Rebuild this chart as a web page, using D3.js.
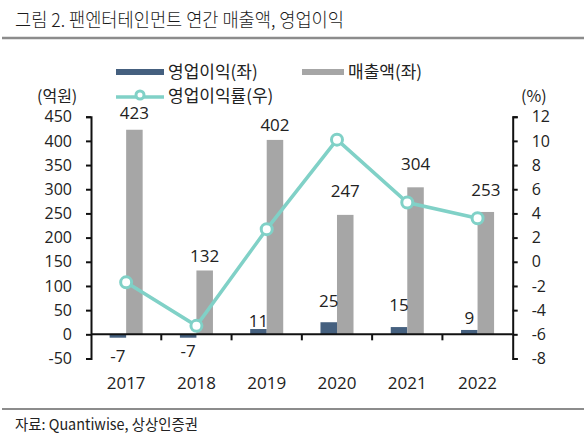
<!DOCTYPE html>
<html><head><meta charset="utf-8">
<script src="https://cdn.jsdelivr.net/npm/d3@7"></script>
<style>
body{margin:0;background:#fff;}
text{font-family:"Open Sans","Noto Sans CJK KR",sans-serif;fill:#222;}
.kr{font-family:"Noto Sans CJK KR",sans-serif;}
</style></head>
<body><svg id="c" width="586" height="438"></svg>
<script>
const years = ["2017","2018","2019","2020","2021","2022"];
const opProfit = [-7,-7,11,25,15,9];
const sales = [423,132,402,247,304,253];
const opMargin = [-1.7,-5.3,2.7,10.1,4.9,3.6];
const leftTicks = [-50,0,50,100,150,200,250,300,350,400,450];
const rightTicks = [-8,-6,-4,-2,0,2,4,6,8,10,12];
// label vertical offsets (px above bar end)
const salesLabelGap = [17,14,15,24,23,22];
const opLabelGap = [-22,-17,8,21,22,12];

const svg = d3.select("#c");
const L = 91, R = 512.7, T = 116.7, B = 358.5;

const x = d3.scaleBand().domain(years).range([L,R]).padding(0);
const yL = d3.scaleLinear().domain([-50,450]).range([B,T]);
const yR = d3.scaleLinear().domain([-8,12]).range([B,T]);
const bw = x.bandwidth()*0.235;
const fmt = d => String(d);

// title
svg.append("text").attr("class","kr").attr("x",15).attr("y",27)
  .attr("font-size",19).attr("font-weight",300).attr("textLength",329).attr("lengthAdjust","spacingAndGlyphs")
  .style("fill","#1a1a1a").text("그림 2. 팬엔터테인먼트 연간 매출액, 영업이익");
svg.append("line").attr("x1",2).attr("x2",584).attr("y1",38).attr("y2",38)
  .attr("stroke","#8c8c8c").attr("stroke-width",2.5);

// footer
svg.append("line").attr("x1",2).attr("x2",584).attr("y1",409).attr("y2",409)
  .attr("stroke","#8c8c8c").attr("stroke-width",2);
svg.append("text").attr("class","kr").attr("x",15).attr("y",430)
  .attr("font-size",15).attr("textLength",183).attr("lengthAdjust","spacingAndGlyphs")
  .text("자료: Quantiwise, 상상인증권");

// legend
svg.append("rect").attr("x",116).attr("y",69).attr("width",48).attr("height",6).attr("fill","#45607f");
svg.append("text").attr("class","kr").attr("x",168).attr("y",78).attr("font-size",17).text("영업이익(좌)");
svg.append("rect").attr("x",302).attr("y",69).attr("width",42).attr("height",6).attr("fill","#a6a6a6");
svg.append("text").attr("class","kr").attr("x",348).attr("y",78).attr("font-size",17).text("매출액(좌)");
svg.append("line").attr("x1",116).attr("x2",164).attr("y1",97).attr("y2",97).attr("stroke","#80d1c7").attr("stroke-width",3.5);
svg.append("circle").attr("cx",140).attr("cy",95).attr("r",4).attr("fill","#fff").attr("stroke","#80d1c7").attr("stroke-width",3);
svg.append("text").attr("class","kr").attr("x",168).attr("y",101.5).attr("font-size",17).text("영업이익률(우)");

// unit labels
svg.append("text").attr("class","kr").attr("x",37).attr("y",101.5).attr("font-size",16).text("(억원)");
svg.append("text").attr("class","kr").attr("x",521).attr("y",101.5).attr("font-size",16).text("(%)");

// axes
const axL = d3.axisLeft(yL).tickValues(leftTicks).tickFormat(fmt).tickSize(5).tickPadding(14);
const gL = svg.append("g").attr("transform",`translate(${L},0)`).call(axL);
const axR = d3.axisRight(yR).tickValues(rightTicks).tickFormat(fmt).tickSize(5).tickPadding(14);
const gR = svg.append("g").attr("transform",`translate(${R},0)`).call(axR);
[gL,gR].forEach(g=>{
  g.select(".domain").attr("stroke","#111").attr("stroke-width",2);
  g.selectAll(".tick line").attr("stroke","#111").attr("stroke-width",2);
  g.selectAll(".tick text").attr("font-size",16).style("font-family","'Open Sans',sans-serif").attr("fill","#222");
});

// bars
svg.append("g").selectAll("rect").data(years).join("rect")
  .attr("x",d=>x(d)+x.bandwidth()/2-bw)
  .attr("width",bw)
  .attr("y",(d,i)=>Math.min(yL(opProfit[i]),yL(0)))
  .attr("height",(d,i)=>Math.abs(yL(opProfit[i])-yL(0)))
  .attr("fill","#45607f");
svg.append("g").selectAll("rect").data(years).join("rect")
  .attr("x",d=>x(d)+x.bandwidth()/2)
  .attr("width",bw)
  .attr("y",(d,i)=>yL(sales[i]))
  .attr("height",(d,i)=>yL(0)-yL(sales[i]))
  .attr("fill","#a6a6a6");

// x axis line + ticks
svg.append("line").attr("x1",L).attr("x2",R).attr("y1",yL(0)).attr("y2",yL(0)).attr("stroke","#111").attr("stroke-width",2);
svg.append("g").selectAll("line").data(years.slice(1)).join("line")
  .attr("x1",d=>x(d)).attr("x2",d=>x(d)).attr("y1",yL(0)).attr("y2",yL(0)+6)
  .attr("stroke","#111").attr("stroke-width",2);
svg.append("g").selectAll("text").data(years).join("text")
  .attr("x",d=>x(d)+x.bandwidth()/2).attr("y",389).attr("text-anchor","middle")
  .attr("font-size",17).text(d=>d);

// line
const line = d3.line().x((d,i)=>x(years[i])+x.bandwidth()/2).y(d=>yR(d));
svg.append("path").datum(opMargin).attr("d",line).attr("fill","none")
  .attr("stroke","#80d1c7").attr("stroke-width",3.5);
svg.append("g").selectAll("circle").data(opMargin).join("circle")
  .attr("cx",(d,i)=>x(years[i])+x.bandwidth()/2).attr("cy",d=>yR(d)).attr("r",5.5)
  .attr("fill","#fff").attr("stroke","#80d1c7").attr("stroke-width",3);

// data labels
svg.append("g").selectAll("text").data(sales).join("text")
  .attr("x",(d,i)=>x(years[i])+x.bandwidth()/2+bw/2)
  .attr("y",(d,i)=>yL(d)-salesLabelGap[i]+6)
  .attr("text-anchor","middle").attr("font-size",17).text(d=>d);
svg.append("g").selectAll("text").data(opProfit).join("text")
  .attr("x",(d,i)=>x(years[i])+x.bandwidth()/2-bw/2)
  .attr("y",(d,i)=>Math.min(yL(d),yL(0))-opLabelGap[i]+6)
  .attr("text-anchor","middle").attr("font-size",17).text(d=>d);
</script></body></html>
